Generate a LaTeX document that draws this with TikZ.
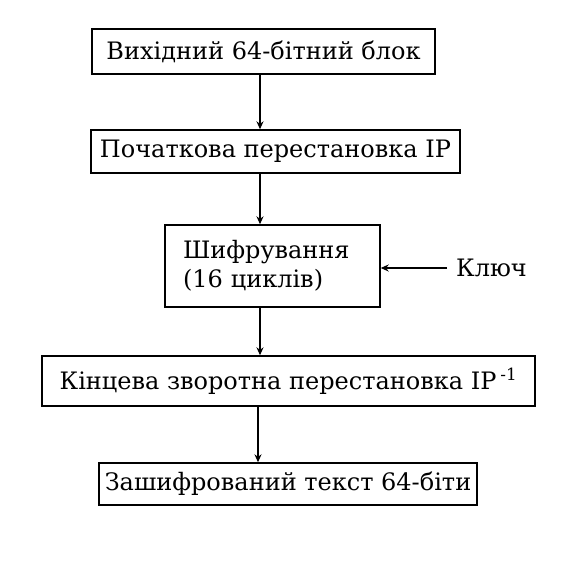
\documentclass[tikz,border=0pt]{standalone}
\usepackage{fontspec}
\setmainfont{DejaVu Serif}
\usetikzlibrary{arrows.meta}
\begin{document}
\begin{tikzpicture}[x=1pt,y=-1pt,
  txt/.style={font=\fontsize{24}{29}\selectfont},
  box/.style={draw,line width=1.4pt,inner sep=0pt,txt},
  arr/.style={line width=1.3pt,-{Stealth[length=8pt,width=7pt]}}]
\useasboundingbox (0,0) rectangle (581,565);
\node[box,minimum width=343pt,minimum height=45pt] (b1) at (263.5,51.5) {Вихідний 64-бітний блок};
\node[box,minimum width=369pt,minimum height=43pt] (b2) at (275.5,151.5) {Початкова перестановка IP};
\node[box,minimum width=215pt,minimum height=82pt,align=left,text width=179pt] (b3) at (272.5,266)
  {\baselineskip=34pt Шифрування\\(16 циклів)};
\node[box,minimum width=493pt,minimum height=50pt] (b4) at (288.5,381) {Кінцева зворотна перестановка IP\,\textsuperscript{-1}};
\node[box,minimum width=378pt,minimum height=42pt] (b5) at (288,484) {Зашифрований текст 64-біти};
\node[txt,anchor=west,inner sep=0pt] (k) at (456,268) {Ключ};
\coordinate (ax) at (260,0);
\coordinate (ay) at (258,0);
\draw[arr] (b1.south -| ax) -- (b2.north -| ax);
\draw[arr] (b2.south -| ax) -- (b3.north -| ax);
\draw[arr] (b3.south -| ax) -- (b4.north -| ax);
\draw[arr] (b4.south -| ay) -- (b5.north -| ay);
\draw[arr] (k.west) ++(-9pt,0) -- (b3.east |- k.west);
\end{tikzpicture}
\end{document}
